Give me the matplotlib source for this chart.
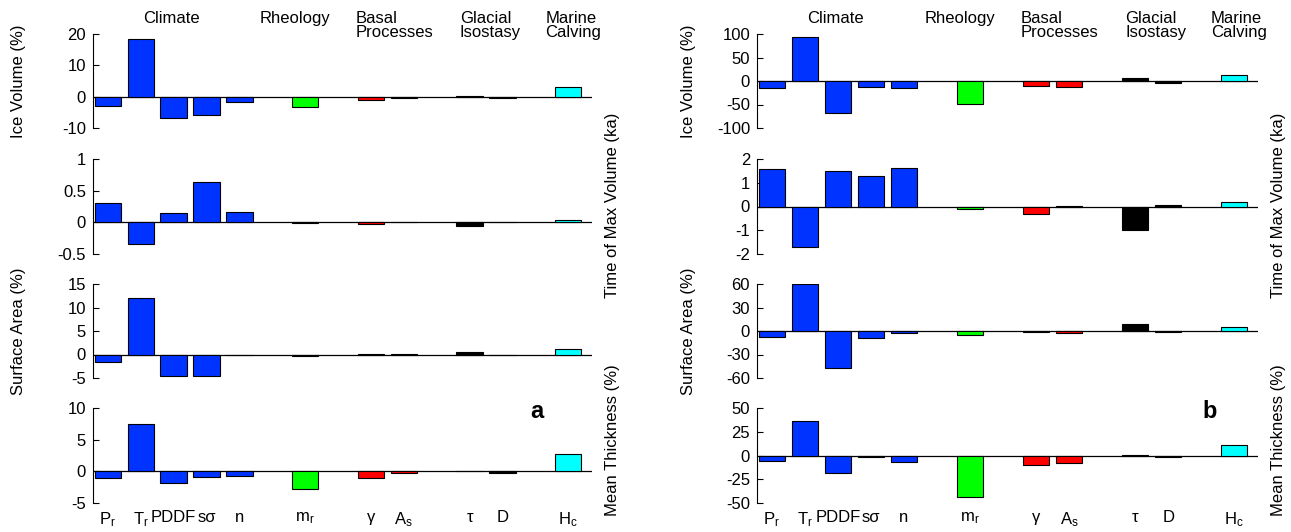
import matplotlib
matplotlib.use('Agg')
import matplotlib.pyplot as plt
from matplotlib.ticker import FormatStrFormatter
from matplotlib.transforms import blended_transform_factory

plt.rcParams['font.family'] = ['Liberation Sans', 'DejaVu Sans']
plt.rcParams['font.size'] = 12
plt.rcParams['mathtext.fontset'] = 'custom'
plt.rcParams['mathtext.rm'] = 'Liberation Sans'
plt.rcParams['mathtext.it'] = 'Liberation Sans'
plt.rcParams['axes.unicode_minus'] = False

# Parameter groups and their colours
group_names = ['Climate', 'Rheology', 'Basal\nProcesses', 'Glacial\nIsostasy', 'Marine\nCalving']
group_sizes = [5, 1, 2, 2, 1]
group_colors = ['#0033ff', '#00ff00', '#ff0000', '#000000', '#00ffff']
param_labels = [r'P$_\mathrm{r}$', r'T$_\mathrm{r}$', 'PDDF', 's\u03c3', 'n', r'm$_\mathrm{r}$',
                '\u03b3', r'A$_\mathrm{s}$', '\u03c4', 'D', r'H$_\mathrm{c}$']

metric_labels = ['Ice Volume (%)', 'Time of Max Volume (ka)', 'Surface Area (%)', 'Mean Thickness (%)']

# Panel a
ice_volume_a = [-3.0, 18.4, -6.9, -5.7, -1.6, -3.4, -1.0, -0.3, 0.3, -0.4, 3.0]
time_max_a = [0.31, -0.34, 0.15, 0.64, 0.16, -0.01, -0.03, 0.01, -0.06, 0.01, 0.04]
surface_area_a = [-1.5, 12.1, -4.6, -4.5, -0.2, -0.3, 0.1, 0.05, 0.45, -0.1, 1.2]
thickness_a = [-1.1, 7.4, -1.8, -0.9, -0.7, -2.85, -1.0, -0.25, 0.1, -0.2, 2.8]
yticks_a = [[-10, 0, 10, 20], [-0.5, 0, 0.5, 1], [-5, 0, 5, 10, 15], [-5, 0, 5, 10]]

# Panel b
ice_volume_b = [-15.5, 93, -69, -12.8, -15.5, -49.6, -10.6, -12, 5.7, -4, 12]
time_max_b = [1.58, -1.7, 1.5, 1.3, 1.6, -0.11, -0.3, 0.02, -1.0, 0.08, 0.17]
surface_area_b = [-7.7, 60.5, -47.5, -9, -2.5, -5, -1, -2, 8.5, -1.5, 5]
thickness_b = [-5.5, 36.7, -18.8, -2, -6.5, -43.5, -10, -7.5, 0.5, -1.5, 11.5]
yticks_b = [[-100, -50, 0, 50, 100], [-2, -1, 0, 1, 2], [-60, -30, 0, 30, 60], [-50, -25, 0, 25, 50]]

W, H = 1291, 532

# bar slots: one empty slot between groups
x_pos = []
bar_colors = []
slot = 1
for size, col in zip(group_sizes, group_colors):
    x_pos.extend(range(slot, slot + size))
    bar_colors.extend([col] * size)
    slot += size + 1
group_starts = [x_pos[sum(group_sizes[:i])] for i in range(len(group_sizes))]

# pixel rows for the four stacked axes
rows_px = [(34, 128), (159, 254), (284, 378), (408, 503)]
label_y_px = [81, 205, 331, 440]


def draw_panel(fig, left_px, right_px, series, yticks, letter, letter_px, lab_left_px, lab_right_px):
    axes = []
    for i, (vals, ticks) in enumerate(zip(series, yticks)):
        top, bot = rows_px[i]
        ax = fig.add_axes([left_px / W, 1 - bot / H, (right_px - left_px) / W, (bot - top) / H])
        ax.bar(x_pos, vals, width=0.8, color=bar_colors, edgecolor='k', linewidth=0.8, zorder=2)
        ax.axhline(0, color='k', linewidth=0.9, zorder=1)
        ax.set_xlim(0.55, 15.72)
        ax.set_ylim(ticks[0], ticks[-1])
        ax.set_yticks(ticks)
        ax.yaxis.set_major_formatter(FormatStrFormatter('%g'))
        for s in ['top', 'right', 'bottom']:
            ax.spines[s].set_visible(False)
        ax.spines['left'].set_linewidth(0.8)
        ax.tick_params(axis='y', direction='in', length=4, width=0.8, labelsize=12, pad=5)
        if i == len(series) - 1:
            ax.set_xticks(x_pos)
            ax.set_xticklabels(param_labels, fontsize=12)
            ax.tick_params(axis='x', length=0, pad=5)
        else:
            ax.set_xticks([])
        # axis titles alternate left / right
        lx = lab_left_px if i % 2 == 0 else lab_right_px
        fig.text(lx / W, 1 - label_y_px[i] / H, metric_labels[i], rotation=90,
                 ha='center', va='center', fontsize=12)
        axes.append(ax)

    # group headings above the top axes
    trans = blended_transform_factory(axes[0].transData, fig.transFigure)
    offsets = [1.08, -1.37, -0.48, -0.3, -0.7]
    for name, start, off in zip(group_names, group_starts, offsets):
        axes[0].text(start + off, 1 - 11 / H, name, transform=trans, ha='left', va='top',
                     fontsize=12, linespacing=0.9)

    fig.text(letter_px[0] / W, 1 - letter_px[1] / H, letter, fontsize=17,
             fontweight='bold', ha='center', va='center')


fig = plt.figure(figsize=(W / 100, H / 100), dpi=100)
draw_panel(fig, 93, 592, [ice_volume_a, time_max_a, surface_area_a, thickness_a], yticks_a,
           'a', (537, 412), 19, 612)
draw_panel(fig, 757, 1258, [ice_volume_b, time_max_b, surface_area_b, thickness_b], yticks_b,
           'b', (1210, 412), 689, 1279)

fig.savefig('out.png', dpi=100)
